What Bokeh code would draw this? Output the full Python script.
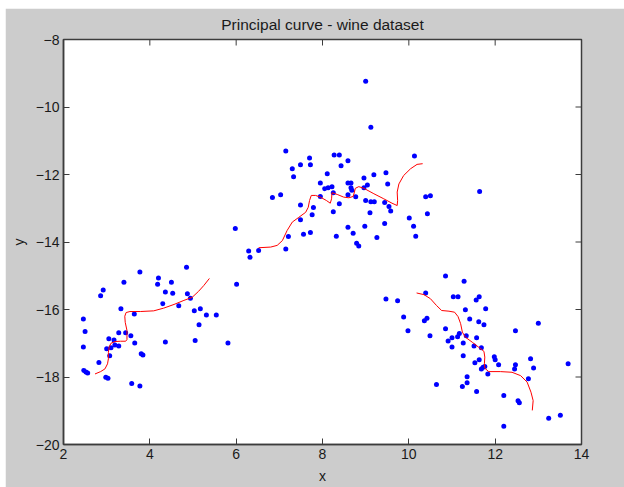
import math
from bokeh.plotting import figure
from bokeh.models import FixedTicker, Range1d
from bokeh.embed import file_html
from bokeh.resources import INLINE

# ---- data ----
x_pts = [3.77, 4.85, 3.40, 4.20, 4.18, 4.50, 2.92, 2.86, 4.36, 4.53, 4.87, 4.94, 4.30, 4.67, 3.33, 3.64,
         5.03, 5.17, 5.31, 5.54, 5.14, 2.46, 2.50, 2.46, 3.28, 3.44, 3.56, 3.05, 3.17, 3.65, 3.19, 3.28,
         3.00, 3.10, 4.36, 5.05, 5.81, 3.80, 3.84, 3.07, 2.82, 2.47, 2.52, 2.56, 2.98, 3.03, 3.58, 3.77,
         6.01, 5.98, 6.29, 6.32, 6.52, 7.15, 7.21,
         9.00, 9.12, 7.15, 7.70, 8.27, 8.39, 8.59, 7.49, 7.72, 7.30, 8.43, 7.33, 8.11, 10.13, 9.47, 9.19,
         8.96, 7.95, 8.59, 8.66, 9.51, 9.04, 8.05, 8.13, 8.22, 8.66, 8.68, 8.96, 6.84, 7.03, 7.95, 8.25,
         8.59, 8.77, 10.39, 10.50, 7.49, 7.79, 8.39, 9.00, 9.12, 9.20, 9.44, 9.54, 9.58, 8.25, 9.10, 7.76,
         7.49, 10.43, 10.01, 10.11, 10.16, 8.59, 8.98, 9.44, 7.56, 7.72, 8.71, 8.32, 9.26, 8.79, 8.84, 11.64,
         10.85, 11.28, 9.47, 9.74, 10.39, 11.03, 11.14, 11.63, 11.56, 11.78, 11.31, 9.88, 10.42, 10.36, 11.41,
         11.62, 11.74, 13.00, 9.98, 10.85, 12.47, 10.49, 11.17, 11.13, 11.33, 11.57, 11.00, 10.91, 11.26,
         11.51, 11.68, 11.00, 11.26, 11.98, 12.00, 11.63, 11.53, 12.08, 12.47, 12.45, 12.82, 12.89, 13.69,
         11.72, 11.76, 11.68, 11.83, 11.35, 11.35, 11.24, 10.64, 12.77, 11.57, 12.20, 12.53, 12.56, 13.24,
         13.51, 12.20]
y_pts = [-14.89, -14.75, -15.19, -15.07, -15.25, -15.19, -15.42, -15.59, -15.48, -15.52, -15.53, -15.67,
         -15.83, -15.89, -15.98, -16.13, -16.04, -15.98, -16.16, -16.16, -16.45, -16.28, -16.65, -17.11,
         -16.69, -16.69, -16.78, -16.87, -16.90, -16.99, -17.05, -17.08, -17.16, -17.13, -16.96, -16.92,
         -16.99, -17.31, -17.35, -17.37, -17.57, -17.81, -17.85, -17.88, -18.01, -18.04, -18.19, -18.27,
         -15.25, -13.60, -14.27, -14.45, -14.25, -14.21, -13.84,
         -9.24, -10.60, -11.30, -11.51, -11.42, -11.42, -11.59, -11.71, -11.71, -11.83, -11.74, -12.07,
         -11.98, -11.45, -11.95, -12.01, -12.10, -12.25, -12.25, -12.25, -12.28, -12.31, -12.42, -12.39,
         -12.36, -12.39, -12.47, -12.39, -12.68, -12.60, -12.65, -12.54, -12.60, -12.66, -12.66, -12.63,
         -12.90, -12.98, -12.87, -12.77, -12.81, -12.81, -12.83, -12.95, -13.08, -13.10, -13.13, -13.19,
         -13.34, -13.16, -13.29, -13.53, -13.83, -13.56, -13.53, -13.45, -13.77, -13.72, -13.74, -13.83,
         -13.87, -14.04, -14.12, -12.50,
         -15.01, -15.16, -15.69, -15.74, -15.51, -15.62, -15.62, -15.62, -15.72, -15.98, -16.01, -16.22,
         -16.26, -16.33, -16.28, -16.36, -16.45, -16.41, -16.63, -16.57, -16.63, -16.78, -16.71, -16.81,
         -16.78, -16.84, -16.84, -16.93, -16.99, -17.08, -17.13, -17.11, -17.37, -17.40, -17.49, -17.49,
         -17.58, -17.64, -17.64, -17.76, -17.46, -17.73, -17.61, -17.71, -17.69, -17.76, -17.91, -17.99,
         -18.17, -18.28, -18.22, -18.05, -18.43, -18.55, -18.70, -18.76, -19.22, -19.13, -19.46]

curve1_x = [2.73, 2.86, 2.96, 3.02, 3.04, 3.04, 3.06, 3.10, 3.19, 3.32, 3.44, 3.47, 3.47, 3.43, 3.42,
            3.45, 3.54, 3.78, 4.09, 4.32, 4.56, 4.79, 4.98, 5.13, 5.25, 5.38]
curve1_y = [-17.91, -17.84, -17.76, -17.61, -17.46, -17.27, -17.10, -17.00, -16.95, -16.94, -16.94,
            -16.89, -16.62, -16.38, -16.20, -16.09, -16.06, -16.06, -16.04, -15.96, -15.85, -15.73,
            -15.64, -15.46, -15.29, -15.08]
curve2_x = [6.52, 6.80, 6.95, 7.07, 7.18, 7.30, 7.45, 7.61, 7.67, 7.70, 7.74, 7.84, 7.95, 8.09, 8.18,
            8.21, 8.22, 8.34, 8.49, 8.61, 8.71, 8.74, 8.76, 8.84, 8.96, 9.19, 9.42, 9.61, 9.73, 9.74,
            9.73, 9.77, 9.88, 10.04, 10.19, 10.32]
curve2_y = [-14.17, -14.15, -14.10, -13.96, -13.66, -13.41, -13.27, -13.12, -12.97, -12.77, -12.62,
            -12.62, -12.67, -12.77, -12.85, -12.72, -12.54, -12.59, -12.67, -12.69, -12.65, -12.52,
            -12.41, -12.36, -12.41, -12.57, -12.72, -12.85, -12.92, -12.77, -12.52, -12.28, -12.03,
            -11.83, -11.70, -11.68]
curve3_x = [10.18, 10.35, 10.50, 10.64, 10.76, 10.93, 11.06, 11.14, 11.20, 11.24, 11.31, 11.47, 11.62,
            11.74, 11.76, 11.75, 11.76, 11.85, 12.12, 12.39, 12.59, 12.74, 12.83, 12.88, 12.86]
curve3_y = [-15.51, -15.56, -15.68, -15.88, -16.03, -16.05, -16.08, -16.21, -16.42, -16.67, -16.82,
            -16.97, -17.12, -17.24, -17.41, -17.61, -17.74, -17.84, -17.84, -17.86, -17.96, -18.15,
            -18.45, -18.70, -18.99]

x_ticks = [2, 4, 6, 8, 10, 12, 14]
y_ticks = [-20, -18, -16, -14, -12, -10, -8]

FONT = "Liberation Sans"
TXT = "#1a1a1a"
AX = "#3c3c3c"
TICK_LEN = 6

p = figure(width=619, height=479, output_backend="svg", toolbar_location=None,
           title="Principal curve - wine dataset",
           x_range=Range1d(x_ticks[0], x_ticks[-1]), y_range=Range1d(y_ticks[0], y_ticks[-1]),
           x_axis_label="x", y_axis_label="y",
           min_border_left=58, min_border_right=43, min_border_top=31, min_border_bottom=43)
p.margin = (8, 0, 0, 5)
p.border_fill_color = "#cccccc"
p.background_fill_color = "white"
p.outline_line_color = AX
p.outline_line_width = 1.5
p.xgrid.visible = False
p.ygrid.visible = False

p.title.align = "center"
p.title.vertical_align = "top"
p.title.text_font = FONT
p.title.text_font_size = "15.5px"
p.title.text_font_style = "normal"
p.title.text_color = TXT
p.title.standoff = 10
p.title.text_line_height = 1.0

for ax in (p.xaxis[0], p.yaxis[0]):
    ax.major_label_text_font = FONT
    ax.major_label_text_font_size = "14px"
    ax.major_label_text_color = TXT
    ax.axis_label_text_font = FONT
    ax.axis_label_text_font_size = "14px"
    ax.axis_label_text_font_style = "normal"
    ax.axis_label_text_color = TXT
    ax.axis_line_color = AX
    ax.axis_line_width = 1.5
    ax.major_tick_in = TICK_LEN
    ax.major_tick_out = 0
    ax.major_tick_line_color = AX
    ax.minor_tick_line_color = None
    ax.major_label_standoff = 4
    ax.axis_label_standoff = 6
p.xaxis[0].ticker = FixedTicker(ticks=x_ticks)
p.yaxis[0].ticker = FixedTicker(ticks=y_ticks)

# inward ticks on the top and right edges of the box
p.ray(x=x_ticks, y=[y_ticks[-1]] * len(x_ticks), length=TICK_LEN, length_units="screen",
      angle=-math.pi / 2, line_color=AX, line_width=1)
p.ray(x=[x_ticks[-1]] * len(y_ticks), y=y_ticks, length=TICK_LEN, length_units="screen",
      angle=math.pi, line_color=AX, line_width=1)

p.scatter(x_pts, y_pts, size=5, marker="circle", fill_color="#0000ff", line_color=None)
for cx, cy in ((curve1_x, curve1_y), (curve2_x, curve2_y), (curve3_x, curve3_y)):
    p.line(cx, cy, line_color="#ff0000", line_width=1)

open("out.html", "w").write(file_html(p, INLINE))
